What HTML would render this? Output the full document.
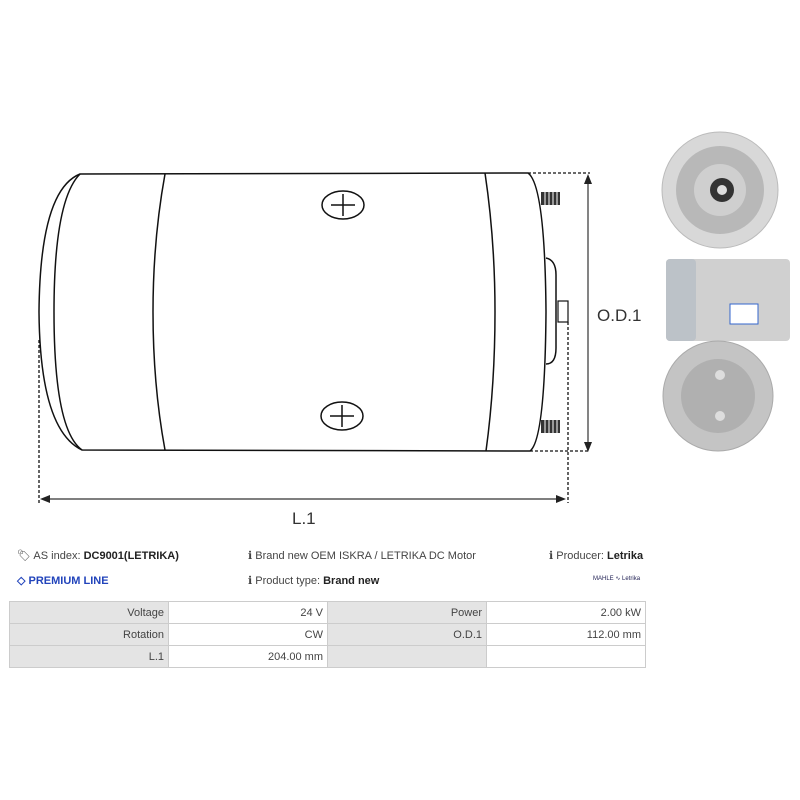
<!DOCTYPE html>
<html><head><style>
body{margin:0;background:#fff;width:800px;height:800px;position:relative;overflow:hidden;font-family:"Liberation Sans",sans-serif;}
.t{position:absolute;font-size:11px;color:#444;white-space:nowrap}
b{color:#222}
table{position:absolute;left:9px;top:601px;border-collapse:collapse;font-size:11px;color:#444}
td{border:1px solid #ccc;width:150px;height:21px;text-align:right;padding:0 4px}
td.l{background:#e4e4e4}
</style></head><body>
<svg width="800" height="540" style="position:absolute;left:0;top:0">
<g fill="none" stroke="#111" stroke-width="1.5">
<path d="M80,174 L528,173 Q545,185 546,312 Q545,440 530,451 L82,450 Q40,430 39,312 Q40,190 80,174 Z" fill="#fff"/>
<path d="M80,174 Q54,200 54,312 Q54,430 82,450"/>
<path d="M165,174 Q153,240 153,312 Q153,385 165,450"/>
<path d="M485,173 Q495,240 495,312 Q495,385 486,451"/>
<ellipse cx="343" cy="205" rx="21" ry="14"/>
<ellipse cx="342" cy="416" rx="21" ry="14"/>
<path d="M331,205h24M343,194v22M330,416h24M342,405v22"/>
<path d="M546,258 Q556,260 556,275 L556,348 Q556,364 546,364"/>
<rect x="558" y="301" width="10" height="21" stroke-width="1.2"/>
</g>
<g fill="#333"><rect x="541" y="192" width="19" height="13"/><rect x="541" y="420" width="19" height="13"/></g>
<g stroke="#fff" stroke-width="1"><path d="M545,192v13M549,192v13M553,192v13M557,192v13M545,420v13M549,420v13M553,420v13M557,420v13"/></g>
<g stroke="#111" stroke-width="1.3" stroke-dasharray="3,2" fill="none">
<path d="M528,173H590M530,451H590M568,322V503M39,340V503"/>
</g>
<g stroke="#333" stroke-width="1.2"><path d="M588,178V448M44,499H563"/></g>
<g fill="#222"><path d="M588,174l-4,10h8z M588,452l-4,-10h8z M40,499l10,-4v8z M566,499l-10,-4v8z"/></g>
<text x="597" y="321" font-size="17" fill="#333" font-family="Liberation Sans">O.D.1</text>
<text x="292" y="524" font-size="17" fill="#333" font-family="Liberation Sans">L.1</text>
<circle cx="720" cy="190" r="58" fill="#d8d8d8" stroke="#bbb"/>
<circle cx="720" cy="190" r="44" fill="#b8b8b8"/>
<circle cx="720" cy="190" r="26" fill="#cfcfcf"/>
<circle cx="722" cy="190" r="12" fill="#333"/>
<circle cx="722" cy="190" r="5" fill="#ddd"/>
<rect x="666" y="259" width="124" height="82" rx="4" fill="#d0d0d0"/>
<rect x="666" y="259" width="30" height="82" rx="4" fill="#bcc2c8"/>
<rect x="730" y="304" width="28" height="20" fill="#fff" stroke="#36c"/>
<circle cx="718" cy="396" r="55" fill="#c4c4c4" stroke="#aaa"/>
<circle cx="718" cy="396" r="37" fill="#b0b0b0"/>
<circle cx="720" cy="375" r="5" fill="#ddd"/><circle cx="720" cy="416" r="5" fill="#ddd"/>
</svg>
<div class="t" style="left:17px;top:549px">&#x1F3F7;&#xFE0E; AS index: <b>DC9001(LETRIKA)</b></div>
<div class="t" style="left:248px;top:549px">&#x2139; Brand new OEM ISKRA / LETRIKA DC Motor</div>
<div class="t" style="left:549px;top:549px">&#x2139; Producer: <b>Letrika</b></div>
<div class="t" style="left:17px;top:574px;color:#2244bb;font-weight:bold">&#x25C7; PREMIUM LINE</div>
<div class="t" style="left:248px;top:574px">&#x2139; Product type: <b>Brand new</b></div>
<div class="t" style="left:593px;top:575px;font-size:6px;color:#225">MAHLE ∿ Letrika</div>
<table>
<tr><td class="l">Voltage</td><td>24 V</td><td class="l">Power</td><td>2.00 kW</td></tr>
<tr><td class="l">Rotation</td><td>CW</td><td class="l">O.D.1</td><td>112.00 mm</td></tr>
<tr><td class="l">L.1</td><td>204.00 mm</td><td class="l"></td><td></td></tr>
</table>
</body></html>
